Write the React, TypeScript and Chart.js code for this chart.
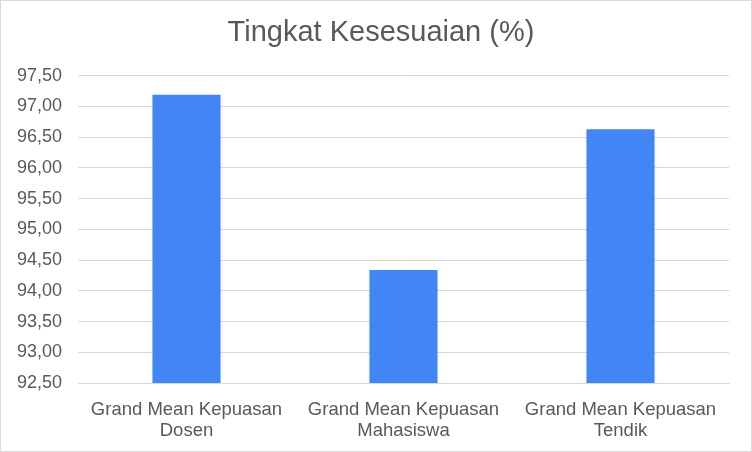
import React, { useEffect, useRef } from "react";
import { Chart, registerables } from "chart.js";

Chart.register(...registerables);

const title = "Tingkat Kesesuaian (%)";
const categories: string[][] = [
  ["Grand Mean Kepuasan", "Dosen"],
  ["Grand Mean Kepuasan", "Mahasiswa"],
  ["Grand Mean Kepuasan", "Tendik"],
];
const values: number[] = [97.19, 94.34, 96.63];
const yMin = 92.5;
const yMax = 97.5;
const yStep = 0.5;

export default function App() {
  const ref = useRef<HTMLCanvasElement | null>(null);
  useEffect(() => {
    document.body.style.margin = "0";
    if (!ref.current) return;
    const font = "'Liberation Sans', Arial, sans-serif";
    const chart = new Chart(ref.current, {
      type: "bar",
      data: {
        labels: categories,
        datasets: [
          {
            data: values,
            backgroundColor: "#4285F4",
            barPercentage: 0.314,
            categoryPercentage: 1,
            yAxisID: "y",
          },
        ],
      },
      options: {
        animation: false,
        responsive: false,
        layout: { padding: { left: 10, right: 0, top: 0, bottom: 0 } },
        plugins: {
          legend: { display: false },
          tooltip: { enabled: false },
          title: {
            display: true,
            text: title,
            color: "#595959",
            font: { family: font, size: 29, weight: "normal", lineHeight: 1.2 },
            padding: { top: 15, bottom: 25 },
          },
        },
        scales: {
          x: {
            grid: { display: false, drawTicks: false },
            border: { display: true, color: "#d9d9d9", width: 1 },
            ticks: {
              color: "#595959",
              font: { family: font, size: 18.5, lineHeight: 1.15 },
              padding: 16,
              maxRotation: 0,
              autoSkip: false,
            },
            afterFit: (s: any) => {
              s.height = 68;
            },
          },
          y: {
            min: yMin,
            max: yMax,
            grid: { color: "#d9d9d9", lineWidth: 1, drawTicks: false },
            border: { display: false },
            ticks: {
              stepSize: yStep,
              color: "#595959",
              font: { family: font, size: 18 },
              padding: 16,
              callback: (v: any) => Number(v).toFixed(2).replace(".", ","),
            },
            afterFit: (s: any) => {
              s.width = 67;
            },
          },
          yRight: {
            type: "linear",
            position: "right",
            min: 0,
            max: 1,
            grid: { display: false, drawTicks: false },
            border: { display: false },
            ticks: { display: false },
            afterFit: (s: any) => {
              s.width = 22;
            },
          },
        },
      },
    });
    return () => chart.destroy();
  }, []);
  return (
    <div
      style={{
        position: "absolute",
        left: 0,
        top: 0,
        width: 752,
        height: 452,
        boxSizing: "border-box",
        border: "1px solid #d9d9d9",
        background: "#fff",
      }}
    >
      <canvas ref={ref} width={750} height={450} style={{ display: "block" }} />
    </div>
  );
}
